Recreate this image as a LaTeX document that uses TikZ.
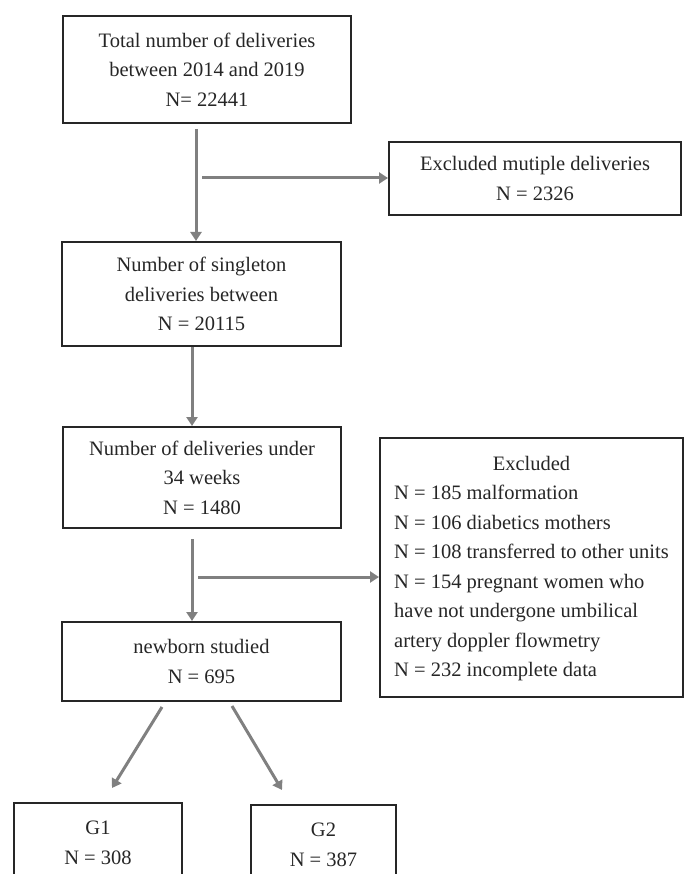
\documentclass[tikz,border=0pt]{standalone}
\usepackage{fontspec}
\setmainfont{Liberation Serif}
\usetikzlibrary{arrows.meta}
\tikzset{
  box/.style={draw=black!85, line width=2pt, fill=white, align=center, inner sep=0pt,
              font=\fontsize{20.5}{29.5}\selectfont, text=black!85},
  arr/.style={draw=black!50, line width=3pt, -{Triangle[length=9pt,width=11pt]}, shorten >=0pt},
}
\begin{document}
\begin{tikzpicture}[x=1pt,y=-1pt]
\path[use as bounding box] (0,0) rectangle (684,874);
\begin{scope}
\clip (0,0) rectangle (684,874);
\node[box, minimum width=288, minimum height=107] (b1) at (207,69.5)
  {Total number of deliveries\\between 2014 and 2019\\N= 22441};
\node[box, minimum width=292, minimum height=73] (b2) at (535,178.5)
  {Excluded mutiple deliveries\\N = 2326};
\node[box, minimum width=279, minimum height=104] (b3) at (201.5,294)
  {Number of singleton\\deliveries between\\N = 20115};
\node[box, minimum width=278, minimum height=101] (b4) at (202,477.5)
  {Number of deliveries under\\34 weeks\\N = 1480};
\node[box, minimum width=303, minimum height=259] (b6) at (531.5,567.5)
  {\begin{tabular}{@{}l@{}}
   \multicolumn{1}{@{}c@{}}{Excluded}\\
   N = 185 malformation\\
   N = 106 diabetics mothers\\
   N = 108 transferred to other units\\
   N = 154 pregnant women who\\
   have not undergone umbilical\\
   artery doppler flowmetry\\
   N = 232 incomplete data
   \end{tabular}};
\node[box, minimum width=279, minimum height=79] (b5) at (201.5,661.5)
  {newborn studied\\N = 695};
\node[box, minimum width=168, minimum height=80] (g1) at (98,843)
  {G1\\N = 308};
\node[box, minimum width=145, minimum height=80] (g2) at (323.5,845)
  {G2\\N = 387};

\coordinate (c1) at (196,178);
\coordinate (c2) at (192,577);
\draw[arr] ([yshift=-5pt]b1.south -| c1) -- (b3.north -| c1);
\draw[arr] ([xshift=6pt]c1) -- (b2.west |- c1);
\draw[arr] (b3.south -| c2) -- (b4.north -| c2);
\draw[arr] ([yshift=-10pt]b4.south -| c2) -- (b5.north -| c2);
\draw[arr] ([xshift=6pt]c2) -- (b6.west |- c2);
\coordinate (d1) at (162,707);
\coordinate (e1) at (112,788);
\coordinate (d2) at (232,706);
\coordinate (e2) at (282,790);
\draw[arr] (d1) -- (e1);
\draw[arr] (d2) -- (e2);
\end{scope}
\end{tikzpicture}
\end{document}
